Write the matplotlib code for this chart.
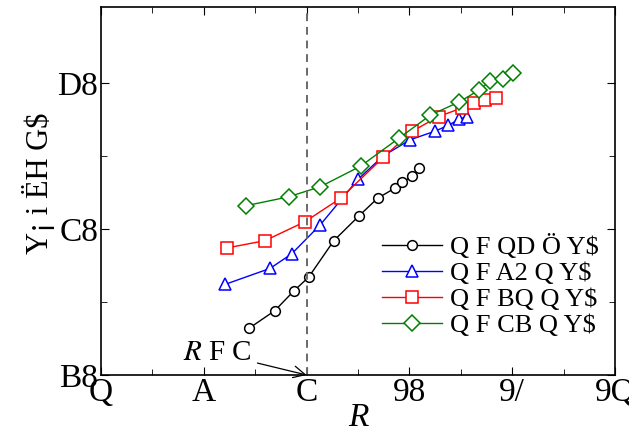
import numpy as np
import matplotlib
matplotlib.use("Agg")
import matplotlib.pyplot as plt
import matplotlib as mpl

# plot options
mpl.rcParams['font.family'] = ['Liberation Serif', 'DejaVu Serif']
mpl.rcParams['mathtext.fontset'] = 'stix'
mpl.rcParams['font.size'] = 20
mpl.rcParams['axes.linewidth'] = 1.2
mpl.rcParams['xtick.major.size'] = 6
mpl.rcParams['ytick.major.size'] = 6
mpl.rcParams['xtick.minor.size'] = 4
mpl.rcParams['ytick.minor.size'] = 4

# data
x_circ = [2.88, 3.38, 3.75, 4.04, 4.53, 5.02, 5.38, 5.72, 5.86, 6.05, 6.19]
y_circ = [33.2, 34.4, 35.75, 36.7, 39.2, 40.9, 42.1, 42.8, 43.2, 43.6, 44.2]

x_tri = [2.41, 3.29, 3.71, 4.27, 5.0, 5.49, 6.01, 6.50, 6.76, 6.96, 7.12]
y_tri = [36.2, 37.3, 38.3, 40.3, 43.4, 45.0, 46.1, 46.7, 47.1, 47.5, 47.7]

x_sq = [2.45, 3.19, 3.97, 4.66, 5.49, 6.06, 6.57, 7.03, 7.25, 7.48, 7.69]
y_sq = [38.7, 39.2, 40.5, 42.1, 44.9, 46.7, 47.7, 48.3, 48.6, 48.8, 49.0]

x_dia = [2.83, 3.65, 4.27, 5.05, 5.79, 6.41, 6.97, 7.35, 7.56, 7.82, 8.02]
y_dia = [41.6, 42.2, 42.9, 44.3, 46.2, 47.8, 48.7, 49.5, 50.1, 50.3, 50.7]

labels = ["Q F QD Ö Y$", "Q F A2 Q Y$", "Q F BQ Q Y$", "Q F CB Q Y$"]
xticks = [0, 2, 4, 6, 8, 10]
xtick_labels = ["Q", "A", "C", "98", "9/", "9Q"]
yticks = [30, 40, 50]
ytick_labels = ["B8", "C8", "D8"]
x_crit = 4

fig = plt.figure(figsize=(6.29, 4.45), dpi=100)
ax = fig.add_axes([101/629, 70/445, 514/629, 368/445])

ax.plot(x_circ, y_circ, '-o', color='black', lw=1.0, ms=7, mfc='white',
        mec='black', mew=1.1, label=labels[0])
ax.plot(x_tri, y_tri, '-^', color='blue', lw=1.0, ms=8, mfc='white',
        mec='blue', mew=1.1, label=labels[1])
ax.plot(x_sq, y_sq, '-s', color='red', lw=1.0, ms=8, mfc='white',
        mec='red', mew=1.1, label=labels[2])
ax.plot(x_dia, y_dia, '-D', color='green', lw=1.0, ms=8.5, mfc='white',
        mec='green', mew=1.1, label=labels[3])

ax.axvline(x_crit, color='dimgray', ls='--', lw=1.4, dashes=(4, 3))

ax.annotate("$R$ F C", xy=(x_crit, 30), xytext=(1.6, 31.0), fontsize=21,
            arrowprops=dict(arrowstyle='->', color='black', lw=0.9,
                            shrinkA=2, shrinkB=0))

ax.set_xlim(0, 10)
ax.set_ylim(30, 55.2)
ax.set_xticks(xticks)
ax.set_xticklabels(xtick_labels, fontsize=24)
ax.set_yticks(yticks)
ax.set_yticklabels(ytick_labels, fontsize=24)
ax.set_xticks([1, 3, 5, 7, 9], minor=True)
ax.set_yticks([35, 45], minor=True)
ax.tick_params(axis='both', which='both', direction='in', top=True, right=True,
               pad=2)

ax.set_xlabel("R", fontsize=24, style='italic', labelpad=-4)
ax.set_ylabel("Y¡ i ËH G$", fontsize=22, labelpad=2)
ax.yaxis.set_label_coords(-0.09, 0.52)

ax.legend(loc='lower right', bbox_to_anchor=(1.0, 0.06), frameon=False,
          fontsize=19, handlelength=2.3, handletextpad=0.3,
          labelspacing=0.1, borderaxespad=0.2)

fig.savefig("out.png", dpi=100)
